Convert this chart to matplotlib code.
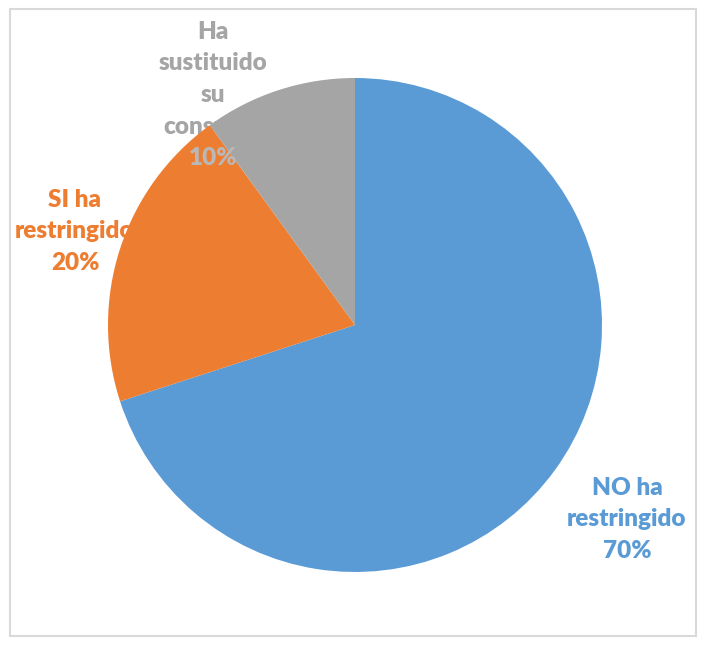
import matplotlib
matplotlib.use('Agg')
import matplotlib.pyplot as plt
from matplotlib.patches import Rectangle

# data
labels = ["NO ha\nrestringido", "SI ha\nrestringido", "Ha\nsustituido\nsu\nconsumo"]
shares = [70, 20, 10]
colors = ["#5B9BD5", "#ED7D31", "#A5A5A5"]

W, H = 704, 645
fig = plt.figure(figsize=(W / 100, H / 100), dpi=100)
ax = fig.add_axes([0, 0, 1, 1])
ax.set_xlim(0, W)
ax.set_ylim(0, H)
ax.set_aspect('equal')
ax.axis('off')

# outer frame
ax.add_patch(Rectangle((10, 9), 686, 627, fill=False, edgecolor="#D9D9D9", lw=1.5, zorder=0))

cx, cy, r = 355, H - 325, 247
wedges, _ = ax.pie(shares, colors=colors, startangle=90, counterclock=False,
                   center=(cx, cy), radius=r, frame=True,
                   wedgeprops=dict(linewidth=0, zorder=2))
ax.set_xlim(0, W)
ax.set_ylim(0, H)
ax.axis('off')

font = dict(family=['Lato', 'DejaVu Sans'], weight='heavy', fontsize=17.5,
            ha='center', va='center')

# label lines: (text, x, y from top), drawn behind the pie like the original
label_lines = [
    (["NO ha", "restringido", "70%"], 627, 488, colors[0]),
    (["SI ha", "restringido", "20%"], 75, 200, colors[1]),
    (["Ha", "sustituido", "su", "consumo", "10%"], 213, 32, colors[2]),
]
for lines, x, y0, col in label_lines:
    for i, t in enumerate(lines):
        ax.text(x, H - (y0 + i * 31.5), t, color=col, zorder=1, **font)

# the 10% shows through the grey wedge in a lighter tone
ax.text(213, H - (32 + 4 * 31.5), "10%", color="#B8B8B8", zorder=3, **font)

fig.savefig("out.png", dpi=100)
plt.close(fig)
